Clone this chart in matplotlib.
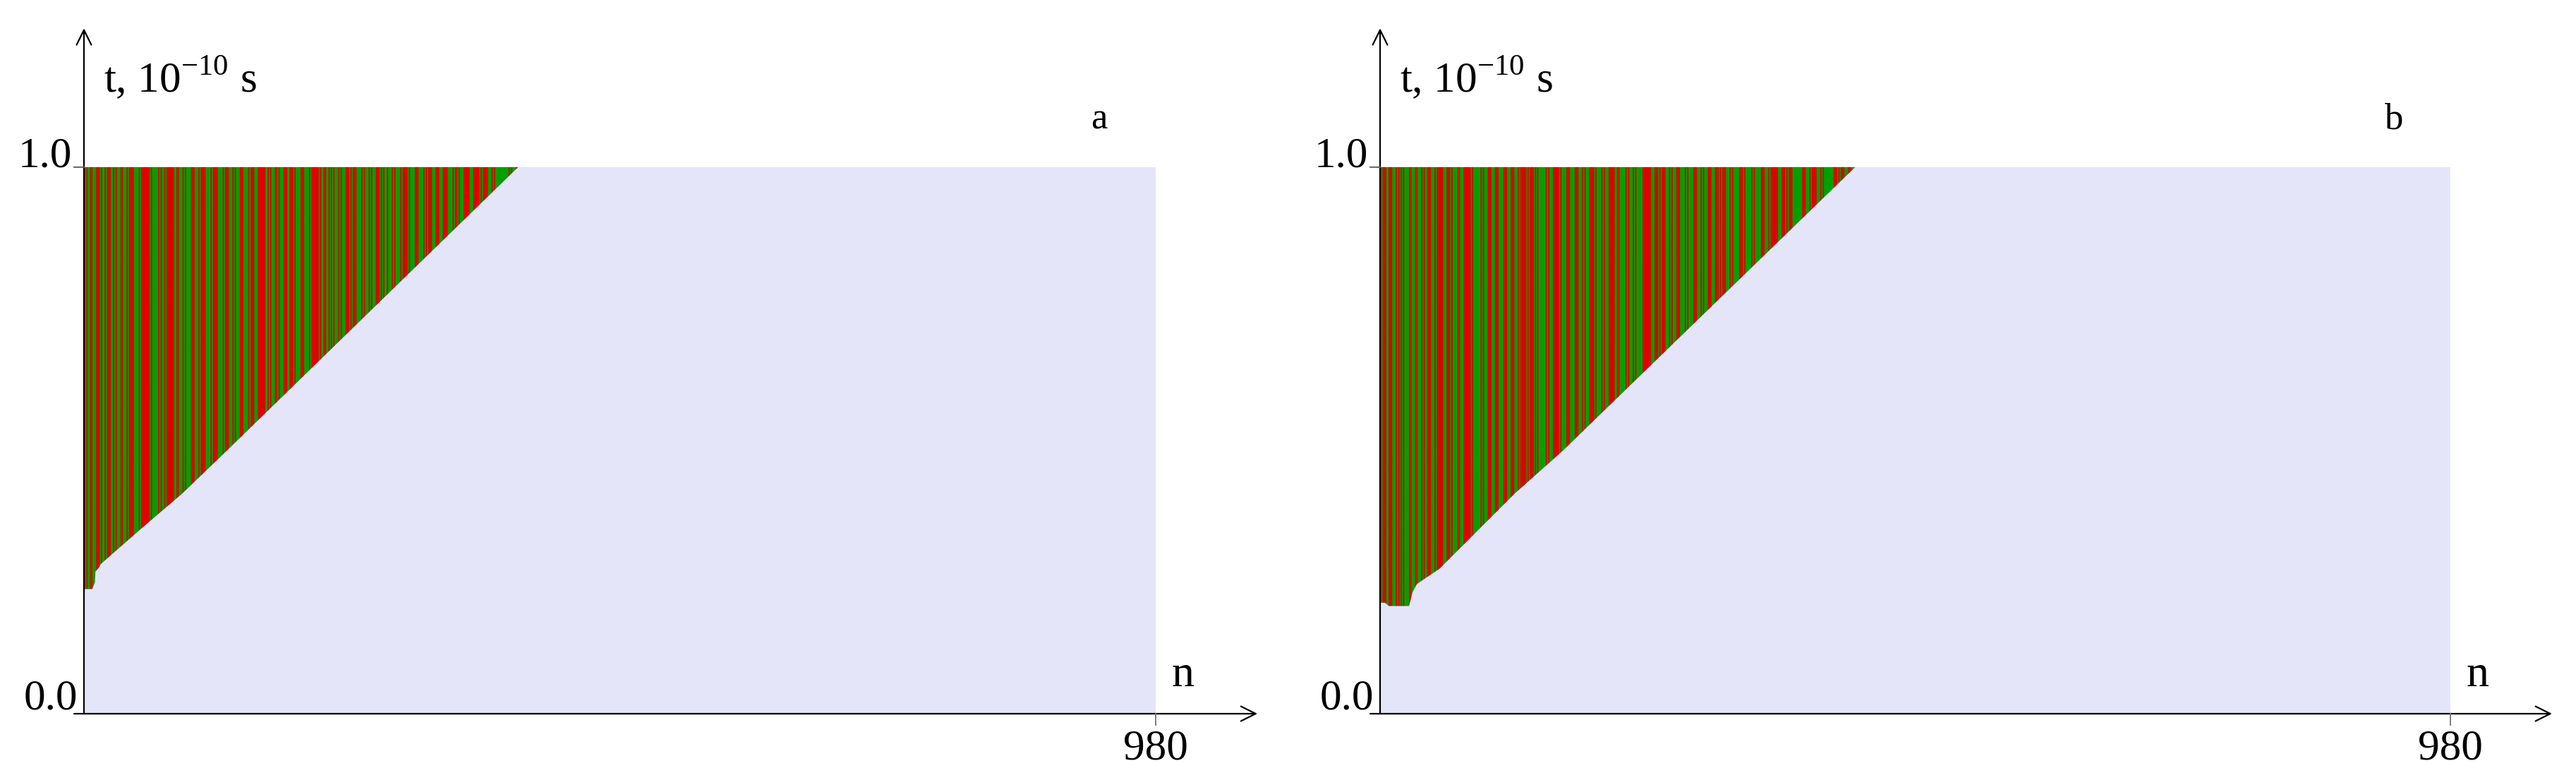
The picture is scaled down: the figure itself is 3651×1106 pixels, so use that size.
import numpy as np
import matplotlib
matplotlib.use("Agg")
import matplotlib.pyplot as plt
from matplotlib.patches import Polygon
from matplotlib.colors import to_rgb

plt.rcParams['font.family'] = ['Liberation Serif', 'DejaVu Serif']
plt.rcParams['mathtext.fontset'] = 'custom'
plt.rcParams['mathtext.rm'] = 'Liberation Serif'

RED = '#e00000'
GREEN = '#00a000'
BG = '#e5e5f9'

n_max = 980
y_ticks = [0.0, 1.0]
x_tick = 980

stripes_a = "".join([
    "RGR", "GG", "RR", "GGG", "RRR", "GR", "GGRG", "RRR", "GG", "RGR", "GGG", "RR",
    "GGG", "RGR", "RRR", "GGG", "GRG", "RRRRRRR", "GRG", "GGGG", "RGR", "GG", "RGR",
    "RRRRR", "GG", "RR", "GGG", "RGR", "GGGG", "RRR", "GGG", "RGR", "RRR", "GGG",
    "GRGR", "RRR", "GGGG", "RGR", "RR", "GGG", "RGR", "GGG", "RRR", "GGGG", "RGR",
    "RR", "GGG", "RRRRRR", "GG", "RGR", "GGG", "RR", "GR", "GGG", "RRR", "GG", "RRR",
    "GRG", "GGG", "RRR", "GGGG",
    "RGR", "RRRRR", "GR", "GG", "RR", "GGRG", "RGR", "GGG", "RGR", "GGG", "RRR", "GRG",
    "RRR", "GGGG", "RGR", "GGG", "RGR", "GGG", "RRR", "GRGR", "GGRGGG", "RGR", "GGGG",
    "RGR", "RRR", "GRG", "GGG", "RRR", "GGGG", "RGRG", "RRR", "GGG", "RRR", "GGG",
    "RRRR", "GGGG", "RGRRGR", "GGG", "RRRRR", "GGG", "RRRRR", "GRG", "RRRR", "GGG",
    "RGRG", "GGGG", "GGGGGG", "RGR", "GGG", "RRRR",
])
stripes_b = "".join([
    "RGR", "RR", "GG", "RRR", "GGG", "RGRGRGRG", "GGG", "RR", "GGG", "RR", "GGG", "RGR",
    "GG", "RRR", "GGG", "RGR", "RRRR", "GGG", "RRR", "GRG", "GGG", "RR", "GGG",
    "RRRRRR", "GRG", "GGGGG", "RGR", "GGG", "RRR", "GGG", "RRR", "GGGG", "RRR", "GGG",
    "RRR", "GGG", "RGR", "RRRR", "GRG", "RRR", "GRGR", "GGGGGG", "RGR", "GGG", "RRRRR",
    "GRG", "GGG", "RRR", "GGGG", "RRR", "GGG", "RGR", "GGG", "RRRR", "GRG", "GGG", "RGR",
    "GGG", "RRRRR", "GG", "RR", "GGGGG",
    "RGR", "GGG", "RGR", "GGGGG", "RRRRRRR", "GGG", "RRR", "GRG", "RRR", "GGG", "RGR",
    "GGG", "RRR", "GGGG", "RGR", "GGGG", "RRR", "GGG", "RGR", "GGG", "RRR", "GGG", "RRR",
    "GRG", "RRR", "GGG", "RGRG", "GGGG", "RRR", "GRG", "GGGG", "RGR", "GGGGG", "RRR",
    "GGG", "RGR", "RRRRR", "GGG", "RRR", "GRG", "RRR", "GGGGGGGG", "RRR", "GGG", "RGR",
    "RRR", "GGG", "RGR", "GGG", "GGGGG", "RRR", "GRG", "RRR", "GGG", "RRR", "GGGGG",
])
stripe_end_a = 399
stripe_end_b = 437

# lower edge of the coloured region, t (1e-10 s) against n
edge_n_a = [0, 7.5, 10, 10.5, 13.5, 15.5, 52, 90, 130, 397]
edge_t_a = [0.228, 0.228, 0.24, 0.26, 0.267, 0.274, 0.338, 0.403, 0.48, 1.0]
edge_n_b = [0, 4.5, 8, 26.5, 29.7, 33.6, 39.4, 54.3, 123.4, 166.7, 435]
edge_t_b = [0.203, 0.203, 0.197, 0.197, 0.222, 0.237, 0.245, 0.265, 0.403, 0.48, 1.0]


def panel(ax, stripes, stripe_end, edge_n, edge_t, letter):
    ax.set_axis_off()
    ax.fill_between([0, n_max], 0, 1, color=BG, lw=0, zorder=1)

    cols = np.array([to_rgb(RED if c == 'R' else GREEN) for c in stripes])
    img = ax.imshow(cols[None], extent=(0, stripe_end, 0, 1), aspect='auto',
                    interpolation='antialiased', zorder=2)
    verts = [(0, 1), (edge_n[-1], 1)] + list(zip(edge_n[::-1], edge_t[::-1]))
    clip = Polygon(verts, closed=True, transform=ax.transData, fc='none', ec='none')
    ax.add_patch(clip)
    img.set_clip_path(clip)

    ax.set_xlim(0, n_max)
    ax.set_ylim(0, 1)

    arr = dict(arrowstyle='->,head_length=1.5,head_width=0.75', lw=1.6,
               color='black', shrinkA=0, shrinkB=0)
    ax.annotate('', xy=(1073, 0), xytext=(-9, 0), arrowprops=arr,
                annotation_clip=False, zorder=5)
    ax.annotate('', xy=(0, 1.254), xytext=(0, 0), arrowprops=arr,
                annotation_clip=False, zorder=5)

    ax.plot([-9, 0], [y_ticks[1]] * 2, color='0.35', lw=1.3, clip_on=False, zorder=5)
    ax.plot([x_tick] * 2, [0, -0.02], color='0.45', lw=1.3, clip_on=False, zorder=5)

    ax.text(-11, y_ticks[1], "%.1f" % y_ticks[1], fontsize=44, ha='right', va='baseline')
    ax.text(-6, y_ticks[0] + 0.008, "%.1f" % y_ticks[0], fontsize=44, ha='right', va='baseline')
    ax.text(x_tick, -0.028, str(x_tick), fontsize=44, ha='center', va='top')
    ax.text(1005, 0.05, "n", fontsize=46, ha='center', va='baseline')
    ax.text(18, 1.138, r"t, 10$^{-10}$ s", fontsize=44, ha='left', va='baseline')
    ax.text(928, 1.07, letter, fontsize=38, ha='center', va='baseline')


fig = plt.figure(figsize=(36.51, 11.06), dpi=100)
ax_a = fig.add_axes([119 / 3651, 94 / 1106, 1519 / 3651, 775 / 1106])
ax_b = fig.add_axes([1956 / 3651, 94 / 1106, 1517 / 3651, 775 / 1106])

panel(ax_a, stripes_a, stripe_end_a, edge_n_a, edge_t_a, "a")
panel(ax_b, stripes_b, stripe_end_b, edge_n_b, edge_t_b, "b")

fig.savefig("out.png", dpi=100, facecolor='white')
